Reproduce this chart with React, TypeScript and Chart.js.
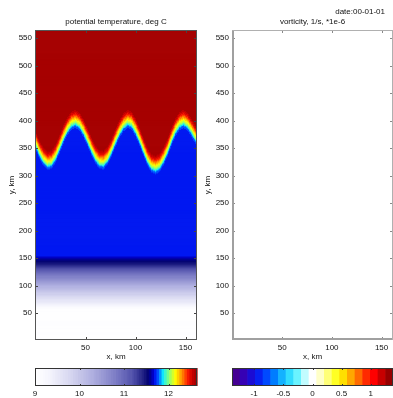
import React, { useEffect, useRef } from "react";
import { Chart, registerables } from "chart.js";
Chart.register(...registerables);

const FONT = "'Liberation Sans', Arial, Helvetica, sans-serif";
const TEXT = "#111";
Chart.defaults.font.family = FONT;
Chart.defaults.font.size = 8;
Chart.defaults.color = TEXT;

// ---------------- data ----------------
const X_TICKS = [50, 100, 150];
const Y_TICKS = [50, 100, 150, 200, 250, 300, 350, 400, 450, 500, 550];
const TEMP_TICKS = [9, 10, 11, 12];
const VORT_TICKS = [-1, -0.5, 0, 0.5, 1];

const X_DOMAIN = [-0.5, 161.5];
const Y_DOMAIN = [1, 565];
const TEMP_DOMAIN = [9, 12.64];
const VORT_DOMAIN = [-1.38, 1.38];

// height (km) of the front (cyan isotherm) along x (km)
const INTERFACE_X = [0, 4, 8, 12, 16, 20, 24, 28, 32, 36, 40, 44, 48, 52, 56, 60, 64, 68, 72, 76, 80, 84, 88, 92, 96, 100, 104, 108, 112, 116, 120, 124, 128, 132, 136, 140, 144, 148, 152, 156, 160, 164];
const INTERFACE_Y = [356, 338, 325, 318, 320, 331, 348, 366, 381, 391, 394, 389, 377, 361, 344, 329, 320, 319, 327, 342, 360, 376, 388, 394, 391, 379, 362, 343, 325, 313, 310, 314, 326, 342, 362, 379, 390, 394, 389, 378, 365, 350];

// temperature across the front vs. vertical distance from it (km)
const FRONT_DIST = [-8, -4, -1, 0, 4, 9, 14, 19, 24, 30];
const FRONT_T = [11.72, 11.74, 11.82, 11.88, 12.02, 12.16, 12.3, 12.44, 12.54, 12.64];

// stratified lower layer: temperature vs height (km)
const PROFILE_Y = [0, 58, 65, 75, 90, 105, 120, 132, 140, 146, 152, 158];
const PROFILE_T = [9.0, 9.0, 9.3, 9.6, 10.0, 10.4, 10.85, 11.2, 11.45, 11.55, 11.65, 11.72];

// ---------------- colour maps (style) ----------------
const TEMP_STOPS: [number, string][] = [
  [9.0, "#ffffff"],
  [9.3, "#f6f6fd"],
  [9.8, "#d6d6f0"],
  [10.3, "#aeaedf"],
  [10.8, "#7e7ec6"],
  [11.2, "#5050aa"],
  [11.45, "#1c1c80"],
  [11.55, "#000070"],
  [11.65, "#0000c8"],
  [11.72, "#0020ff"],
  [11.8, "#0080ff"],
  [11.88, "#10f0ff"],
  [12.0, "#80ff80"],
  [12.15, "#ffff00"],
  [12.3, "#ff9000"],
  [12.42, "#ff2000"],
  [12.52, "#d00000"],
  [12.64, "#990000"],
];
const VORT_STOPS: [number, string][] = [
  [-1.38, "#4a0080"],
  [-1.2, "#3a00b0"],
  [-1.0, "#1010e0"],
  [-0.85, "#0030ff"],
  [-0.65, "#0080ff"],
  [-0.45, "#20d0ff"],
  [-0.3, "#50f0ff"],
  [-0.15, "#b8fcff"],
  [0, "#ffffff"],
  [0.15, "#ffffc0"],
  [0.3, "#ffff60"],
  [0.45, "#ffff00"],
  [0.6, "#ffc000"],
  [0.75, "#ff8000"],
  [0.9, "#ff3000"],
  [1.05, "#ff0000"],
  [1.2, "#c00000"],
  [1.38, "#800000"],
];

function interp(xs: number[], ys: number[], v: number) {
  const n = xs.length;
  if (v <= xs[0]) return ys[0];
  if (v >= xs[n - 1]) return ys[n - 1];
  let i = 1;
  while (xs[i] < v) i++;
  const t = (v - xs[i - 1]) / (xs[i] - xs[i - 1]);
  return ys[i - 1] + t * (ys[i] - ys[i - 1]);
}
function hexToRgb(h: string) {
  const n = parseInt(h.slice(1), 16);
  return [(n >> 16) & 255, (n >> 8) & 255, n & 255];
}
function makePalette(stops: [number, string][], lo: number, hi: number, n: number) {
  const vals = stops.map((s) => s[0]);
  const rgb = stops.map((s) => hexToRgb(s[1]));
  const out: string[] = [];
  for (let i = 0; i < n; i++) {
    const v = lo + ((i + 0.5) * (hi - lo)) / n;
    const c = [0, 1, 2].map((k) => Math.round(interp(vals, rgb.map((r) => r[k]), v)));
    out.push(`rgb(${c[0]},${c[1]},${c[2]})`);
  }
  return out;
}
const TEMP_LEVELS = 64;
const VORT_LEVELS = 21;
const TEMP_PALETTE = makePalette(TEMP_STOPS, TEMP_DOMAIN[0], TEMP_DOMAIN[1], TEMP_LEVELS);
const VORT_PALETTE = makePalette(VORT_STOPS, VORT_DOMAIN[0], VORT_DOMAIN[1], VORT_LEVELS);
function levelOf(v: number, lo: number, hi: number, n: number) {
  return Math.max(0, Math.min(n - 1, Math.floor(((v - lo) / (hi - lo)) * n)));
}

function temperatureAt(x: number, y: number) {
  const yi = interp(INTERFACE_X, INTERFACE_Y, x);
  const upper = interp(FRONT_DIST, FRONT_T, y - yi);
  const lower = interp(PROFILE_Y, PROFILE_T, y);
  return upper + lower - FRONT_T[0];
}

// ---------------- plugins ----------------
const CELL_X = 1;
const CELL_Y = 1.8;

const heatmapPlugin = {
  id: "heatmap",
  beforeDatasetsDraw(chart: any) {
    const { ctx, chartArea: a } = chart;
    const xs = chart.scales.x;
    const ys = chart.scales.y;
    ctx.save();
    ctx.beginPath();
    ctx.rect(a.left, a.top, a.right - a.left, a.bottom - a.top);
    ctx.clip();
    for (let gx = X_DOMAIN[0]; gx < X_DOMAIN[1]; gx += CELL_X) {
      const p0 = xs.getPixelForValue(gx);
      const p1 = xs.getPixelForValue(gx + CELL_X);
      const xc = gx + CELL_X / 2;
      for (let gy = Y_DOMAIN[0]; gy < Y_DOMAIN[1]; gy += CELL_Y) {
        const q0 = ys.getPixelForValue(gy + CELL_Y);
        const q1 = ys.getPixelForValue(gy);
        const t = temperatureAt(xc, gy + CELL_Y / 2);
        ctx.fillStyle = TEMP_PALETTE[levelOf(t, TEMP_DOMAIN[0], TEMP_DOMAIN[1], TEMP_LEVELS)];
        ctx.fillRect(p0, q0, p1 - p0 + 0.6, q1 - q0 + 0.6);
      }
    }
    ctx.restore();
  },
};

function framePlugin(kind: "dark" | "light", dateText?: string) {
  return {
    id: "frame",
    afterDatasetsDraw(chart: any) {
      const { ctx, chartArea: a } = chart;
      const xs = chart.scales.x;
      const ys = chart.scales.y;
      const w = a.right - a.left;
      const h = a.bottom - a.top;
      ctx.save();
      const L = 3;
      ctx.strokeStyle = kind === "dark" ? "#444" : "#8a8a8a";
      ctx.lineWidth = 1;
      ctx.beginPath();
      for (const v of X_TICKS) {
        const px = Math.round(xs.getPixelForValue(v)) + 0.5;
        ctx.moveTo(px, a.bottom);
        ctx.lineTo(px, a.bottom - L);
        ctx.moveTo(px, a.top);
        ctx.lineTo(px, a.top + L);
      }
      for (const v of Y_TICKS) {
        const py = Math.round(ys.getPixelForValue(v)) + 0.5;
        ctx.moveTo(a.left, py);
        ctx.lineTo(a.left + L, py);
        ctx.moveTo(a.right, py);
        ctx.lineTo(a.right - L, py);
      }
      ctx.stroke();
      if (kind === "dark") {
        ctx.strokeStyle = "#555";
        ctx.strokeRect(a.left + 0.5, a.top + 0.5, w - 1, h - 1);
      } else {
        ctx.fillStyle = "#a0a0a0";
        ctx.fillRect(a.left, a.top, 2, h);
        ctx.fillRect(a.left, a.bottom - 2, w, 2);
        ctx.fillStyle = "#b0b0b0";
        ctx.fillRect(a.left, a.top, w, 1);
        ctx.fillRect(a.right - 1, a.top, 1, h);
      }
      if (dateText) {
        ctx.fillStyle = TEXT;
        ctx.font = `8px ${FONT}`;
        ctx.textAlign = "right";
        ctx.textBaseline = "middle";
        ctx.fillText(dateText, a.right - 8, 12);
      }
      ctx.restore();
    },
  };
}

function colorbarPlugin(palette: string[], domain: number[], ticks: number[]) {
  return {
    id: "colorbar",
    beforeDatasetsDraw(chart: any) {
      const { ctx, chartArea: a } = chart;
      const xs = chart.scales.x;
      const n = palette.length;
      ctx.save();
      for (let i = 0; i < n; i++) {
        const v0 = domain[0] + (i * (domain[1] - domain[0])) / n;
        const v1 = domain[0] + ((i + 1) * (domain[1] - domain[0])) / n;
        const p0 = xs.getPixelForValue(v0);
        const p1 = xs.getPixelForValue(v1);
        ctx.fillStyle = palette[i];
        ctx.fillRect(p0, a.top, p1 - p0 + 0.6, a.bottom - a.top);
      }
      ctx.strokeStyle = "#333";
      ctx.lineWidth = 1;
      ctx.beginPath();
      for (const v of ticks) {
        const px = Math.round(xs.getPixelForValue(v)) + 0.5;
        ctx.moveTo(px, a.top);
        ctx.lineTo(px, a.top + 2);
        ctx.moveTo(px, a.bottom);
        ctx.lineTo(px, a.bottom - 2);
      }
      ctx.stroke();
      ctx.strokeRect(a.left + 0.5, a.top + 0.5, a.right - a.left - 1, a.bottom - a.top - 1);
      ctx.restore();
    },
  };
}

const plainLabel = (v: number | string) => String(v);

// ---------------- configs ----------------
function panelConfig(title: string, padRight: number, yWidth: number, plugins: any[]) {
  return {
    type: "scatter" as const,
    data: { datasets: [] },
    options: {
      responsive: false,
      animation: false as const,
      events: [],
      layout: { padding: { left: 0, right: padRight, top: 0, bottom: 0 } },
      plugins: {
        legend: { display: false },
        tooltip: { enabled: false },
        title: {
          display: true,
          text: title,
          fullSize: false,
          color: TEXT,
          font: { size: 8, weight: "normal" as const },
          padding: { top: 17, bottom: 3.4 },
        },
      },
      scales: {
        x: {
          type: "linear" as const,
          min: X_DOMAIN[0],
          max: X_DOMAIN[1],
          afterBuildTicks: (s: any) => {
            s.ticks = X_TICKS.map((value) => ({ value }));
          },
          afterFit: (s: any) => {
            s.height = 22;
            s.paddingLeft = 0;
            s.paddingRight = 0;
          },
          grid: { display: false, drawTicks: false },
          border: { display: false },
          ticks: { padding: 3, color: TEXT, font: { size: 8 }, maxRotation: 0, autoSkip: false, callback: plainLabel },
          title: { display: true, text: "x, km", color: TEXT, font: { size: 8 }, padding: { top: 0, bottom: 0 } },
        },
        y: {
          type: "linear" as const,
          min: Y_DOMAIN[0],
          max: Y_DOMAIN[1],
          afterBuildTicks: (s: any) => {
            s.ticks = Y_TICKS.map((value) => ({ value }));
          },
          afterFit: (s: any) => {
            s.width = yWidth;
            s.paddingTop = 0;
            s.paddingBottom = 0;
          },
          grid: { display: false, drawTicks: false },
          border: { display: false },
          ticks: { padding: 3, color: TEXT, font: { size: 8 }, autoSkip: false, callback: plainLabel },
          title: { display: true, text: "y, km", color: TEXT, font: { size: 8 }, padding: { top: 7, bottom: 0 } },
        },
      },
    },
    plugins,
  };
}

function colorbarConfig(domain: number[], ticks: number[], padLeft: number, padRight: number, palette: string[]) {
  return {
    type: "scatter" as const,
    data: { datasets: [] },
    options: {
      responsive: false,
      animation: false as const,
      events: [],
      layout: { padding: { left: padLeft, right: padRight, top: 8, bottom: 0 } },
      plugins: { legend: { display: false }, tooltip: { enabled: false } },
      scales: {
        x: {
          type: "linear" as const,
          min: domain[0],
          max: domain[1],
          afterBuildTicks: (s: any) => {
            s.ticks = ticks.map((value) => ({ value }));
          },
          afterFit: (s: any) => {
            s.height = 12;
            s.paddingLeft = 0;
            s.paddingRight = 0;
          },
          grid: { display: false, drawTicks: false },
          border: { display: false },
          ticks: { padding: 3, color: TEXT, font: { size: 8 }, maxRotation: 0, autoSkip: false, callback: plainLabel },
        },
        y: { display: false, min: 0, max: 1 },
      },
    },
    plugins: [colorbarPlugin(palette, domain, ticks)],
  };
}

function ChartCanvas({ x, y, w, h, make }: { x: number; y: number; w: number; h: number; make: () => any }) {
  const ref = useRef<HTMLCanvasElement>(null);
  useEffect(() => {
    const chart = new Chart(ref.current as HTMLCanvasElement, make());
    return () => chart.destroy();
  }, []);
  return (
    <canvas
      ref={ref}
      width={w}
      height={h}
      style={{ position: "absolute", left: x, top: y, width: w, height: h, display: "block" }}
    />
  );
}

export default function App() {
  return (
    <div style={{ position: "absolute", left: 0, top: 0, width: 393, height: 398, background: "#fff", overflow: "hidden" }}>
      <ChartCanvas
        x={0}
        y={0}
        w={200}
        h={362}
        make={() => panelConfig("potential temperature, deg C", 3, 35, [heatmapPlugin, framePlugin("dark")])}
      />
      <ChartCanvas
        x={196}
        y={0}
        w={197}
        h={362}
        make={() => panelConfig("vorticity, 1/s, *1e-6", 0, 36, [framePlugin("light", "date:00-01-01")])}
      />
      <ChartCanvas
        x={0}
        y={360}
        w={200}
        h={38}
        make={() => colorbarConfig(TEMP_DOMAIN, TEMP_TICKS, 35, 3, TEMP_PALETTE)}
      />
      <ChartCanvas
        x={196}
        y={360}
        w={197}
        h={38}
        make={() => colorbarConfig(VORT_DOMAIN, VORT_TICKS, 36, 0, VORT_PALETTE)}
      />
    </div>
  );
}
